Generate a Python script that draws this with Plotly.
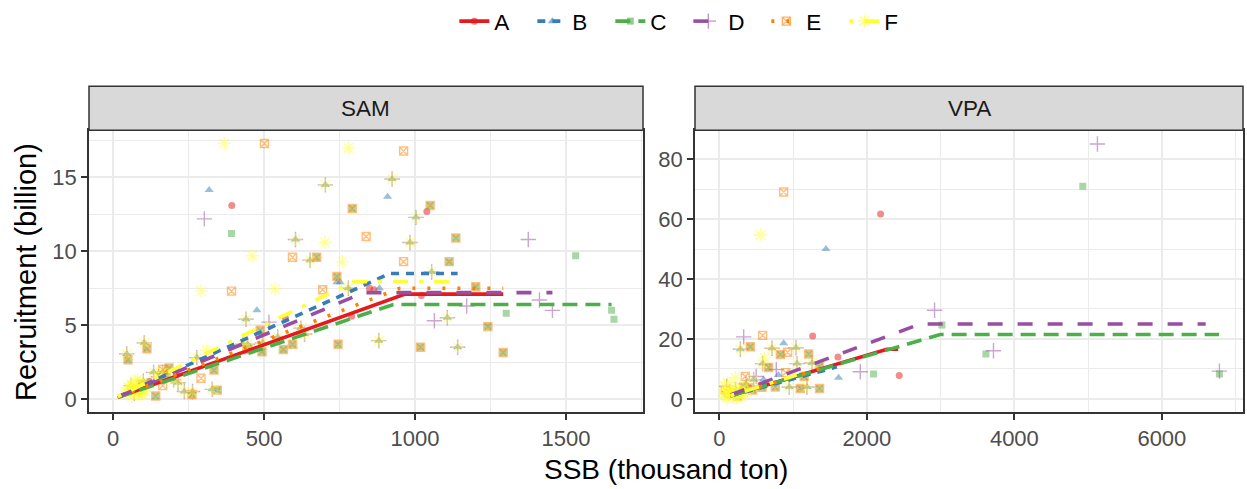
import plotly.graph_objects as go

# ---------------- DATA ----------------
GROUPS = ["A", "B", "C", "D", "E", "F"]
COLORS = {"A": "#E41A1C", "B": "#377EB8", "C": "#4DAF4A", "D": "#984EA3", "E": "#FF7F00", "F": "#FFFF33"}
SYMBOLS = {"A": "circle", "B": "triangle-up", "C": "square", "D": "cross-thin-open",
           "E": "square-x-open", "F": "asterisk-open"}
SIZES = {"A": 7, "B": 8, "C": 7, "D": 11, "E": 8, "F": 11}
DASHES = {"A": "solid", "B": "8px,7px", "C": "15px,8px", "D": "15px,15px",
          "E": "3px,12px", "F": "4px,11px,15px,11px"}

# ---- SAM points (SSB thousand ton, recruitment billion) ----
SAM_BDF_SSB = [924, 703, 1003, 604, 983, 652, 779, 1055, 440, 622, 634, 545, 445, 495, 880, 45, 103,
               328, 236, 263, 1107, 1141, 277, 430, 134, 164, 150, 200, 215, 60, 85, 100, 70]
SAM_BDF_REC = [14.9, 14.5, 12.3, 10.8, 10.6, 9.4, 7.5, 8.6, 5.4, 4.8, 4.4, 4.2, 3.7, 3.8, 3.95, 3.05, 3.8,
               0.65, 0.5, 0.5, 5.5, 3.5, 2.8, 3.7, 1.8, 1.8, 1.5, 1.3, 1.1, 0.9, 0.6, 1.2, 0.4]
SAM_CE_SSB = [792, 1050, 674, 741, 487, 745, 1018, 493, 564, 594, 447, 49, 112, 334, 345, 141, 261,
              1135, 1113, 1201, 1241, 1292, 175, 185, 75, 95]
SAM_CE_REC = [12.9, 13.1, 9.6, 8.3, 4.65, 3.7, 3.5, 3.2, 3.35, 3.7, 3.35, 2.65, 3.4, 1.95, 0.6, 0.2, 0.3,
              10.9, 9.3, 7.6, 4.9, 3.15, 1.6, 2.1, 0.7, 1.0]

SAM_A_SSB = [393, 1039, 849, 864, 1021, 570, 790, 60, 80, 95, 120, 210]
SAM_A_REC = [13.1, 12.7, 7.5, 7.4, 7.0, 5.5, 5.6, 0.6, 0.5, 0.8, 1.2, 1.6]
SAM_B_SSB = SAM_BDF_SSB + [318, 909, 741, 752, 882, 476]
SAM_B_REC = SAM_BDF_REC + [14.15, 13.7, 7.9, 7.9, 7.5, 6.0]
SAM_C_SSB = SAM_CE_SSB + [392, 1532, 1651, 1659, 1302]
SAM_C_REC = SAM_CE_REC + [11.2, 9.7, 6.0, 5.4, 5.8]
SAM_D_SSB = SAM_BDF_SSB + [302, 1064, 516, 1375, 1412, 1171, 1455]
SAM_D_REC = SAM_BDF_REC + [12.2, 5.3, 5.2, 10.8, 6.7, 6.3, 6.0]
SAM_E_SSB = SAM_CE_SSB + [501, 962, 838, 594, 962, 392, 694, 291, 164, 164]
SAM_E_REC = SAM_CE_REC + [17.3, 16.8, 11.0, 9.6, 9.3, 7.3, 7.4, 1.4, 2.0, 0.9]
SAM_F_SSB = SAM_BDF_SSB + [368, 779, 702, 461, 759, 291, 536, 310,
                           40, 50, 55, 60, 65, 72, 78, 88, 92, 98, 105, 110, 62, 80, 68, 84, 96, 58]
SAM_F_REC = SAM_BDF_REC + [17.3, 17.0, 10.6, 9.7, 9.3, 7.3, 7.45, 3.3,
                           0.5, 0.8, 0.3, 1.0, 0.6, 1.2, 0.7, 0.3, 0.6, 1.1, 0.5, 0.8, 0.2, 1.3, 0.9, 0.4, 0.3, 0.7]

# ---- SAM fitted lines ----
SAM_LINE_SSB = {"A": [15, 967, 1292], "B": [15, 917, 1141], "C": [15, 928, 1651],
                "D": [15, 829, 1455], "E": [15, 950, 1292], "F": [15, 796, 1116]}
SAM_LINE_REC = {"A": [0.11, 7.1, 7.1], "B": [0.14, 8.5, 8.5], "C": [0.10, 6.4, 6.4],
                "D": [0.13, 7.2, 7.2], "E": [0.12, 7.5, 7.5], "F": [0.15, 7.95, 7.95]}

# ---- VPA points ----
VPA_BDF_SSB = [285, 714, 1039, 587, 1053, 1256, 948, 1188, 465, 140, 220, 360]
VPA_BDF_REC = [16.6, 16.9, 17.1, 11.8, 11.8, 12.0, 4.0, 4.0, 6.4, 2.5, 3.2, 5.0]
VPA_CE_SSB = [420, 827, 1211, 668, 1359, 759, 1098, 1359, 330, 578, 1150, 150, 250, 450]
VPA_CE_REC = [17.4, 14.8, 15.0, 10.5, 10.9, 4.0, 3.5, 3.5, 3.9, 3.9, 7.5, 2.0, 1.0, 3.0]

VPA_A_SSB = [2186, 1265, 1608, 2439, 100, 200, 300, 400]
VPA_A_REC = [61.7, 21.0, 14.0, 7.8, 1.5, 2.0, 3.0, 4.0]
VPA_B_SSB = VPA_BDF_SSB + [1445, 872, 1617, 600, 800]
VPA_B_REC = VPA_BDF_REC + [50.0, 18.6, 7.1, 6.5, 8.0]
VPA_C_SSB = VPA_CE_SSB + [3017, 2091, 4928, 3614, 6780]
VPA_C_REC = VPA_CE_REC + [24.7, 8.3, 70.9, 15.0, 8.3]
VPA_D_SSB = VPA_BDF_SSB + [330, 2918, 772, 1911, 5126, 3717, 6780, 100, 500]
VPA_D_REC = VPA_BDF_REC + [20.7, 29.6, 9.8, 9.1, 85.0, 16.1, 9.3, 4.2, 7.5]
VPA_E_SSB = VPA_CE_SSB + [872, 587, 925, 352, 80, 900]
VPA_E_REC = VPA_CE_REC + [69.0, 21.2, 15.6, 7.5, 3.0, 8.8]
VPA_F_SSB = VPA_BDF_SSB + [556, 614, 217, 60, 80, 100, 120, 160, 180, 200, 240, 260, 280, 300,
                           320, 340, 380, 70, 110, 90, 130, 190, 230]
VPA_F_REC = VPA_BDF_REC + [54.7, 13.7, 7.1, 1.0, 2.0, 0.5, 3.0, 2.5, 0.8, 4.0, 3.0, 1.2, 2.2, 0.6,
                           3.5, 1.8, 2.5, 4.5, 5.5, 2.8, 1.0, 1.5, 0.4]

# ---- VPA fitted lines ----
VPA_LINE_SSB = {"A": [150, 2272, 2425], "B": [150, 1594], "C": [150, 2995, 6775],
                "D": [150, 2724, 6594], "E": [150, 1360], "F": [150, 1050]}
VPA_LINE_REC = {"A": [1.1, 16.6, 16.6], "B": [1.0, 10.7], "C": [1.08, 21.5, 21.5],
                "D": [1.38, 25.0, 25.0], "E": [1.1, 10.0], "F": [1.1, 8.0]}

SAM_PTS = {"A": (SAM_A_SSB, SAM_A_REC), "B": (SAM_B_SSB, SAM_B_REC), "C": (SAM_C_SSB, SAM_C_REC),
           "D": (SAM_D_SSB, SAM_D_REC), "E": (SAM_E_SSB, SAM_E_REC), "F": (SAM_F_SSB, SAM_F_REC)}
VPA_PTS = {"A": (VPA_A_SSB, VPA_A_REC), "B": (VPA_B_SSB, VPA_B_REC), "C": (VPA_C_SSB, VPA_C_REC),
           "D": (VPA_D_SSB, VPA_D_REC), "E": (VPA_E_SSB, VPA_E_REC), "F": (VPA_F_SSB, VPA_F_REC)}

# ---------------- FIGURE ----------------
FONT = "Liberation Sans, Arial, sans-serif"
W, H = 1247, 489
fig = go.Figure()


def marker_for(g, opacity=0.5):
    open_sym = g in ("D", "E", "F")
    return dict(symbol=SYMBOLS[g], size=SIZES[g], color=COLORS[g], opacity=opacity,
                line=dict(color=COLORS[g], width=1.4 if open_sym else 0))


for panel, pts, xa, ya in (("SAM", SAM_PTS, "x", "y"), ("VPA", VPA_PTS, "x2", "y2")):
    for g in GROUPS:
        xs, ys = pts[g]
        fig.add_trace(go.Scatter(x=xs, y=ys, mode="markers", marker=marker_for(g),
                                 xaxis=xa, yaxis=ya, showlegend=False, legendgroup=g,
                                 hoverinfo="skip"))

for panel, lx, ly, xa, ya in (("SAM", SAM_LINE_SSB, SAM_LINE_REC, "x", "y"),
                              ("VPA", VPA_LINE_SSB, VPA_LINE_REC, "x2", "y2")):
    for g in GROUPS:
        fig.add_trace(go.Scatter(x=lx[g], y=ly[g], mode="lines",
                                 line=dict(color=COLORS[g], width=3.6, dash=DASHES[g]),
                                 xaxis=xa, yaxis=ya, showlegend=False, legendgroup=g,
                                 hoverinfo="skip"))

# legend-only entries
for g in GROUPS:
    fig.add_trace(go.Scatter(x=[None], y=[None], mode="lines+markers", name=g,
                             line=dict(color=COLORS[g], width=3.6, dash=DASHES[g]),
                             marker=marker_for(g, 0.6), xaxis="x", yaxis="y",
                             showlegend=True, legendgroup=g))

# geometry (pixels -> paper)
SAM_L, SAM_R, VPA_L, VPA_R = 89, 643, 695, 1243
P_TOP, P_BOT, S_TOP = 122, 410, 77
dom_y = [1 - P_BOT / H, 1 - P_TOP / H]
strip_y = [1 - P_TOP / H, 1 - S_TOP / H]
dom_x1 = [SAM_L / W, SAM_R / W]
dom_x2 = [VPA_L / W, VPA_R / W]

GRID = "#EBEBEB"
LINE = "#333333"
TICKFONT = dict(family=FONT, size=22, color="#4D4D4D")

axis_common = dict(showgrid=True, gridcolor=GRID, gridwidth=2, zeroline=False,
                   showline=True, linecolor=LINE, linewidth=1.5, mirror=True,
                   ticks="outside", ticklen=6, tickwidth=1.5, tickcolor=LINE,
                   tickfont=TICKFONT, fixedrange=True)

fig.update_layout(
    width=W, height=H, margin=dict(l=0, r=0, t=0, b=0),
    paper_bgcolor="white", plot_bgcolor="white",
    font=dict(family=FONT, color="black"),
    xaxis=dict(domain=dom_x1, range=[-80, 1755], tick0=0, dtick=500,
               minor=dict(dtick=250, showgrid=True, gridcolor=GRID, gridwidth=1, ticks=""),
               anchor="y", **axis_common),
    yaxis=dict(domain=dom_y, range=[-0.87, 18.2], tick0=0, dtick=5,
               minor=dict(dtick=2.5, showgrid=True, gridcolor=GRID, gridwidth=1, ticks=""),
               anchor="x", **axis_common),
    xaxis2=dict(domain=dom_x2, range=[-330, 7100], tick0=0, dtick=2000,
                minor=dict(dtick=1000, showgrid=True, gridcolor=GRID, gridwidth=1, ticks=""),
                anchor="y2", **axis_common),
    yaxis2=dict(domain=dom_y, range=[-4.27, 89.6], tick0=0, dtick=20,
                minor=dict(dtick=10, showgrid=True, gridcolor=GRID, gridwidth=1, ticks=""),
                anchor="x2", **axis_common),
    legend=dict(orientation="h", x=0.552, xanchor="center", y=1.024, yanchor="top",
                font=dict(family=FONT, size=22.5, color="black"), bgcolor="rgba(0,0,0,0)",
                entrywidth=33, entrywidthmode="pixels",
                itemclick=False, itemdoubleclick=False),
    showlegend=True,
)

# strips
for dx, label in ((dom_x1, "SAM"), (dom_x2, "VPA")):
    fig.add_shape(type="rect", xref="paper", yref="paper", x0=dx[0], x1=dx[1],
                  y0=strip_y[0], y1=strip_y[1], fillcolor="#D9D9D9",
                  line=dict(color=LINE, width=1.5), layer="above")
    fig.add_annotation(xref="paper", yref="paper", x=(dx[0] + dx[1]) / 2,
                       y=(strip_y[0] + strip_y[1]) / 2, text=label, showarrow=False,
                       font=dict(family=FONT, size=22.5, color="#1A1A1A"),
                       xanchor="center", yanchor="middle")

# axis titles
fig.add_annotation(xref="paper", yref="paper", x=(SAM_L + VPA_R) / 2 / W, y=1 - 469 / H,
                   text="SSB (thousand ton)", showarrow=False,
                   font=dict(family=FONT, size=28, color="black"),
                   xanchor="center", yanchor="middle")
fig.add_annotation(xref="paper", yref="paper", x=26 / W, y=1 - 267 / H,
                   text="Recruitment (billion)", showarrow=False, textangle=-90,
                   font=dict(family=FONT, size=29, color="black"),
                   xanchor="center", yanchor="middle")

fig.write_html("out.html", config={"displayModeBar": False},
               post_script="document.body.style.margin='0px';")
